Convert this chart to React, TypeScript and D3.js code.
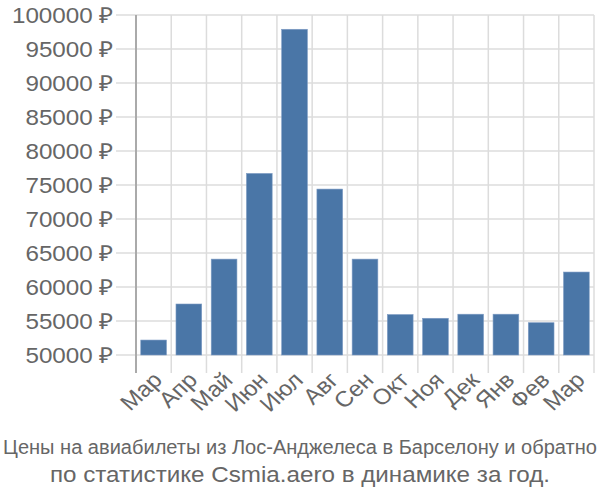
import React from "react";
import * as d3 from "d3";

const months = ["Мар", "Апр", "Май", "Июн", "Июл", "Авг", "Сен", "Окт", "Ноя", "Дек", "Янв", "Фев", "Мар"];
const prices = [52200, 57500, 64100, 76700, 97900, 74400, 64100, 55950, 55400, 56000, 56000, 54750, 62200];
const yTicks = [50000, 55000, 60000, 65000, 70000, 75000, 80000, 85000, 90000, 95000, 100000];
const titleLines = [
  "Цены на авиабилеты из Лос-Анджелеса в Барселону и обратно",
  "по статистике Csmia.aero в динамике за год.",
];

export default function App() {
  const W = 600, H = 500;
  const left = 136, right = 594, top = 15, base = 355, bottomLine = 373;
  const y = d3.scaleLinear().domain([50000, 100000]).range([base, top]);
  const x = d3.scaleBand<number>().domain(d3.range(months.length)).range([left, right]).paddingInner(0).paddingOuter(0);
  const step = x.step();
  const barW = step * 0.73;
  const font = "'Liberation Sans', Arial, sans-serif";
  const textColor = "#666";
  const grid = "#dcdcdc";
  const sx = 1.1;
  return (
    <svg width={W} height={H} style={{ position: "absolute", left: 0, top: 0 }} fontFamily={font}>
      {yTicks.map((t) => (
        <g key={t}>
          <line x1={116} x2={right} y1={y(t)} y2={y(t)} stroke={grid} strokeWidth={1.5} />
          <text transform={`translate(113,${y(t)}) scale(${sx},1)`} dy="0.35em" textAnchor="end" fontSize={22} fill={textColor}>
            {t} ₽
          </text>
        </g>
      ))}
      {d3.range(months.length + 1).map((i) => (
        <line key={i} x1={left + i * step} x2={left + i * step} y1={top} y2={bottomLine} stroke={i === 0 ? "#aaa" : grid} strokeWidth={i === 0 ? 2 : 1.5} />
      ))}
      {prices.map((p, i) => (
        <rect
          key={i}
          x={(x(i) as number) + (step - barW) / 2}
          y={y(p)}
          width={barW}
          height={base - y(p)}
          fill="#4a76a7"
          stroke="#7e9cc4"
          strokeWidth={0.6}
        />
      ))}
      {months.map((m, i) => {
        const cx = (x(i) as number) + step / 2 + 4;
        const cy = 376;
        return (
          <text key={i} transform={`translate(${cx},${cy}) scale(${sx},1) rotate(-45)`} textAnchor="end" dy="0.35em" fontSize={22} fill={textColor}>
            {m}
          </text>
        );
      })}
      <text transform={`translate(${W / 2},454) scale(0.955,1)`} textAnchor="middle" fontSize={21} fill={textColor}>
        {titleLines[0]}
      </text>
      <text transform={`translate(${W / 2},482) scale(${sx},1)`} textAnchor="middle" fontSize={22} fill={textColor}>
        {titleLines[1]}
      </text>
    </svg>
  );
}
